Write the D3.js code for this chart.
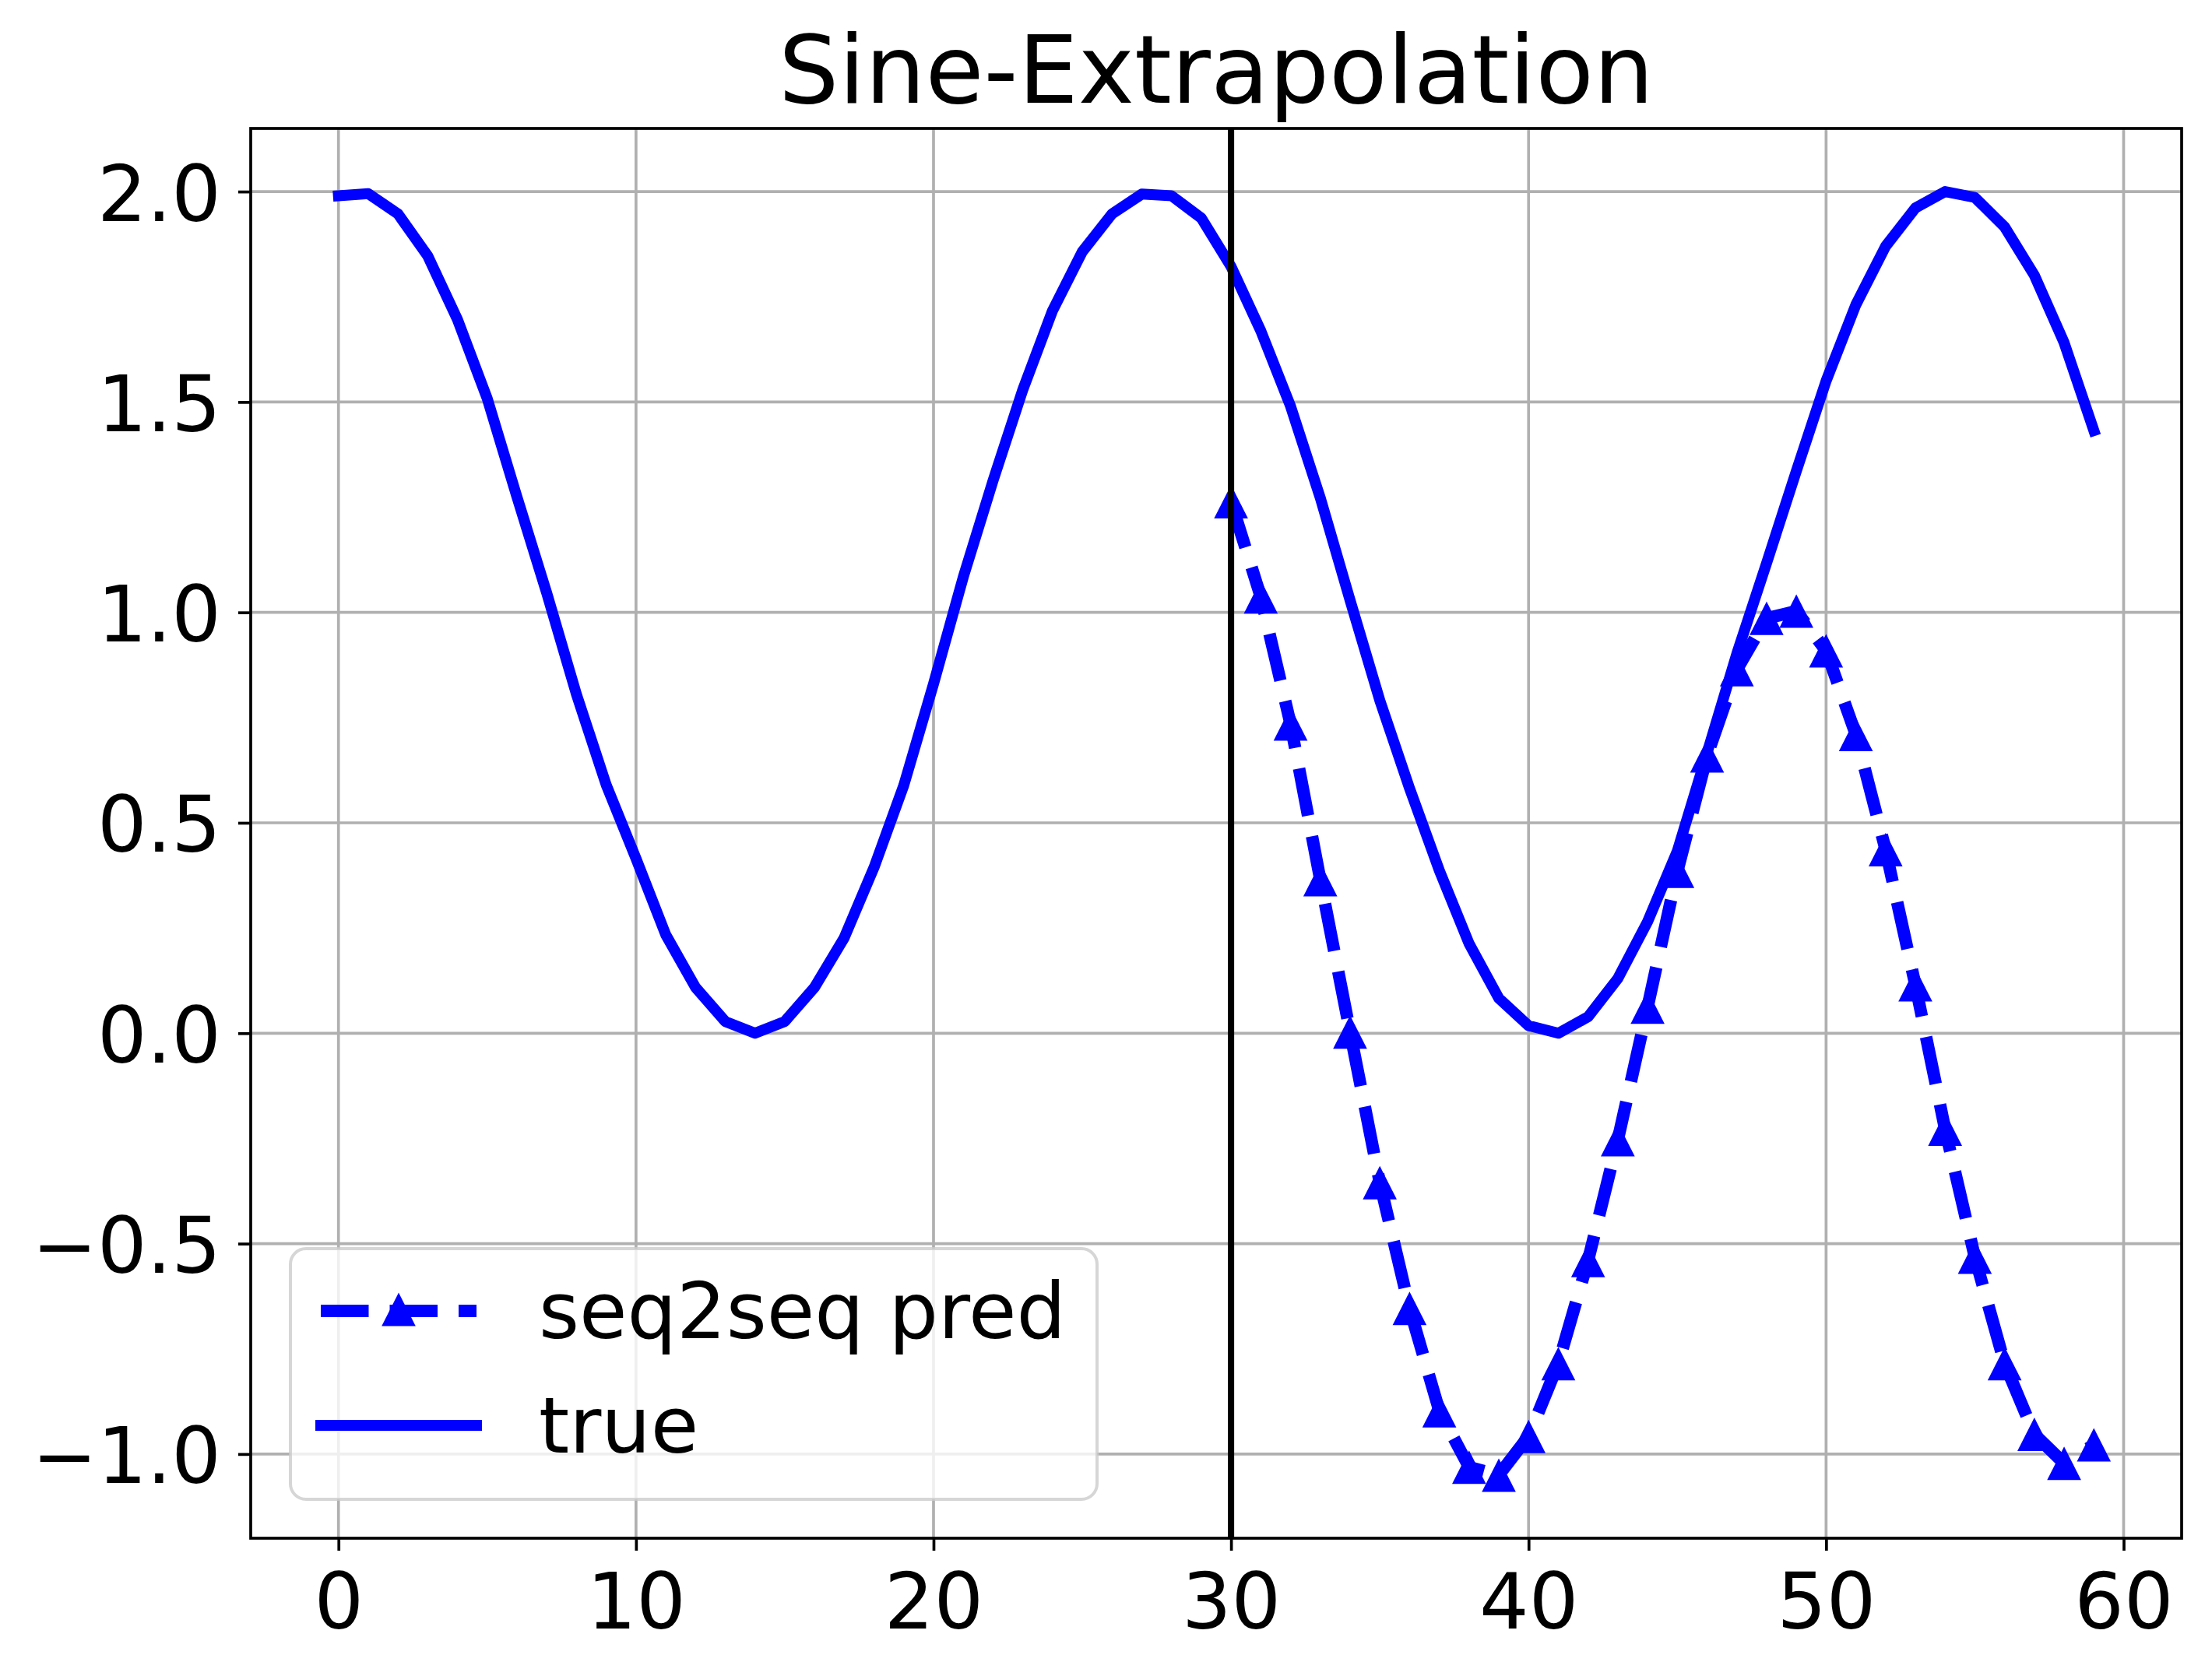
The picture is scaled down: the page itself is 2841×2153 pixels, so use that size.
<!DOCTYPE html>
<html>
<head>
<meta charset="utf-8">
<script src="https://cdn.jsdelivr.net/npm/d3@7"></script>
<style>
  html, body { margin: 0; padding: 0; background: #fff; }
  svg { display: block; font-family: "DejaVu Sans", sans-serif; }
</style>
</head>
<body>
<svg id="chart" width="2841" height="2153"></svg>
<script>
// ---- data ----
const titleText = "Sine-Extrapolation";
const trueX = d3.range(0, 60);
const trueY = [1.99, 1.995, 1.947, 1.847, 1.696, 1.508, 1.274, 1.046, 0.805, 0.59,
               0.415, 0.234, 0.109, 0.028, 0.0, 0.028, 0.109, 0.227, 0.394, 0.589,
               0.83, 1.084, 1.313, 1.529, 1.717, 1.857, 1.947, 1.994, 1.99, 1.937,
               1.822, 1.669, 1.49, 1.272, 1.029, 0.791, 0.582, 0.387, 0.213, 0.083,
               0.018, 0.0, 0.039, 0.13, 0.265, 0.433, 0.666, 0.902, 1.117, 1.336,
               1.55, 1.731, 1.87, 1.961, 2.0, 1.986, 1.916, 1.801, 1.641, 1.432];
const predX = d3.range(30, 60);
const predY = [1.263, 1.037, 0.735, 0.365, 0.003, -0.355, -0.654, -0.897, -1.031, -1.05,
               -0.958, -0.785, -0.54, -0.253, 0.062, 0.385, 0.659, 0.864, 0.986, 1.003,
               0.909, 0.71, 0.436, 0.115, -0.228, -0.532, -0.785, -0.953, -1.022, -0.978];
const splitX = 30;
const xTicks = [0, 10, 20, 30, 40, 50, 60];
const yTicks = [-1.0, -0.5, 0.0, 0.5, 1.0, 1.5, 2.0];
const legendLabels = ["seq2seq pred", "true"];

// ---- layout ----
const W = 2841, H = 2153;
const plot = { left: 322, top: 165, width: 2480, height: 1811 };
const blue = "#0000ff";
const gridColor = "#b0b0b0";
const fontTick = 100, fontTitle = 122;

const svg = d3.select("#chart");
svg.append("rect").attr("width", W).attr("height", H).attr("fill", "#fff");

const x = d3.scaleLinear().domain([-2.95, 61.95]).range([0, plot.width]);
const y = d3.scaleLinear().domain([-1.2, 2.15]).range([plot.height, 0]);

const g = svg.append("g").attr("transform", `translate(${plot.left},${plot.top})`);

// grid
const grid = g.append("g");
grid.selectAll("line.gx").data(xTicks).join("line")
  .attr("x1", d => x(d)).attr("x2", d => x(d)).attr("y1", 0).attr("y2", plot.height)
  .attr("stroke", gridColor).attr("stroke-width", 3.7);
grid.selectAll("line.gy").data(yTicks).join("line")
  .attr("y1", d => y(d)).attr("y2", d => y(d)).attr("x1", 0).attr("x2", plot.width)
  .attr("stroke", gridColor).attr("stroke-width", 3.7);

// pred (dashed with triangle markers)
const predData = predX.map((t, i) => [t, predY[i]]);
const trueData = trueX.map((t, i) => [t, trueY[i]]);
const line = d3.line().x(d => x(d[0])).y(d => y(d[1]));

g.append("path").datum(predData).attr("d", line)
  .attr("fill", "none").attr("stroke", blue).attr("stroke-width", 16)
  .attr("stroke-dasharray", "61.5 27").attr("stroke-linejoin", "round");

const tri = "M0,-21.5L-21.8,21.5L21.8,21.5Z";
g.selectAll("path.marker").data(predData).join("path")
  .attr("class", "marker")
  .attr("d", tri)
  .attr("transform", d => `translate(${x(d[0])},${y(d[1])})`)
  .attr("fill", blue);

// true line
g.append("path").datum(trueData).attr("d", line)
  .attr("fill", "none").attr("stroke", blue).attr("stroke-width", 14)
  .attr("stroke-linejoin", "round").attr("stroke-linecap", "square");

// vertical split line
g.append("line")
  .attr("x1", x(splitX)).attr("x2", x(splitX)).attr("y1", 0).attr("y2", plot.height)
  .attr("stroke", "#000").attr("stroke-width", 8);

// axes
const fmtY = d => d3.format(".1f")(d).replace("-", "\u2212");
const xAxis = g.append("g").attr("transform", `translate(0,${plot.height})`)
  .call(d3.axisBottom(x).tickValues(xTicks).tickSize(16).tickFormat(d3.format("d")));
const yAxis = g.append("g")
  .call(d3.axisLeft(y).tickValues(yTicks).tickSize(16).tickFormat(fmtY));
[xAxis, yAxis].forEach(a => {
  a.select(".domain").remove();
  a.selectAll(".tick line").attr("stroke", "#000").attr("stroke-width", 3.7);
  a.selectAll(".tick text").attr("fill", "#000")
    .style("font-family", "'DejaVu Sans', sans-serif").style("font-size", fontTick + "px");
});
xAxis.selectAll(".tick text").attr("y", 116).attr("dy", 0);
yAxis.selectAll(".tick text").attr("x", -38).attr("dy", 0).attr("y", 37);

// spines
g.append("rect").attr("x", 0).attr("y", 0).attr("width", plot.width).attr("height", plot.height)
  .attr("fill", "none").attr("stroke", "#000").attr("stroke-width", 3.7);

// title
svg.append("text").attr("x", plot.left + plot.width / 2).attr("y", 132)
  .attr("text-anchor", "middle").style("font-size", fontTitle + "px").attr("fill", "#000")
  .text(titleText);

// legend
const lg = svg.append("g");
lg.append("rect").attr("x", 373).attr("y", 1604).attr("width", 1036).attr("height", 322)
  .attr("rx", 20).attr("ry", 20)
  .attr("fill", "#fff").attr("fill-opacity", 0.8)
  .attr("stroke", "#cccccc").attr("stroke-opacity", 0.8).attr("stroke-width", 4);

const legY = [1684, 1831];
lg.append("line").attr("x1", 412).attr("x2", 612).attr("y1", legY[0]).attr("y2", legY[0])
  .attr("stroke", blue).attr("stroke-width", 16).attr("stroke-dasharray", "61.5 27");
lg.append("path").attr("d", tri).attr("transform", `translate(512,${legY[0] - 2})`).attr("fill", blue);
lg.append("line").attr("x1", 412).attr("x2", 612).attr("y1", legY[1]).attr("y2", legY[1])
  .attr("stroke", blue).attr("stroke-width", 14).attr("stroke-linecap", "square");

lg.selectAll("text").data(legendLabels).join("text")
  .attr("x", 692).attr("y", (d, i) => [1719, 1866][i])
  .style("font-size", fontTick + "px").attr("fill", "#000")
  .text(d => d);
</script>
</body>
</html>
